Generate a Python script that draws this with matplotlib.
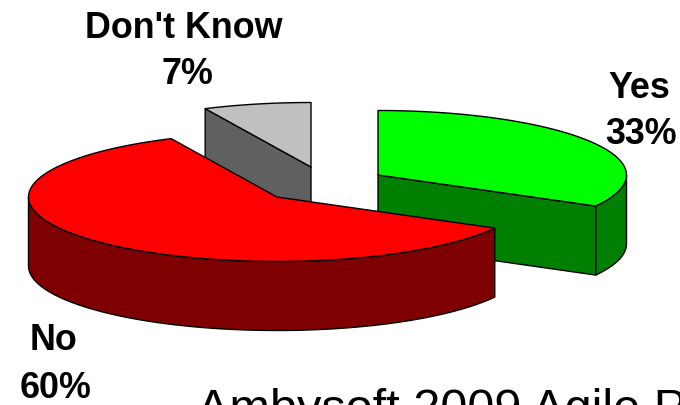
import numpy as np
import matplotlib
matplotlib.use('Agg')
import matplotlib.pyplot as plt
from matplotlib.patches import Polygon

# Data
labels = ['Yes', 'No', "Don't Know"]
values = [33, 60, 7]
top_colors = ['#00FF00', '#FF0000', '#C0C0C0']
side_colors = ['#007F00', '#7F0000', '#606060']

# Pie layout, in pixels of the 680x405 picture
rx, ry = 248.5, 64.5
depth = 69
# exploded centre of each slice
centers = [(378, 175), (277, 197), (311, 167)]
line_w = 1.0

plt.rcParams['font.family'] = ['Liberation Sans', 'DejaVu Sans']

fig = plt.figure(figsize=(6.8, 4.05), dpi=100)
ax = fig.add_axes([0, 0, 1, 1])
ax.set_xlim(0, 680)
ax.set_ylim(405, 0)
ax.axis('off')


def rim(c, a0, a1):
    # points on the ellipse, angles in degrees clockwise from 12 o'clock
    n = max(int(abs(a1 - a0) / 2), 2)
    a = np.radians(np.linspace(a0, a1, n))
    return np.column_stack([c[0] + rx * np.sin(a), c[1] - ry * np.cos(a)])


def shape(pts, color, z):
    ax.add_patch(Polygon(pts, closed=True, facecolor=color, edgecolor='black',
                         linewidth=line_w, joinstyle='round', zorder=z))


def wall(pts, color, z):
    # drop a top outline by the pie's depth to make a side wall
    low = pts[::-1] + [0, depth]
    shape(np.vstack([pts, low]), color, z)


# Slice angles come from the values
edges = np.concatenate([[0], np.cumsum(values)]) * 360.0 / sum(values)

# Don't Know, at the back
c = np.array(centers[2], float)
a0, a1 = edges[2], edges[3]
wall(np.array([c, rim(c, a0, a0)[0]]), side_colors[2], 1)
shape(np.vstack([[c], rim(c, a0, a1)]), top_colors[2], 2)

# Yes
c = np.array(centers[0], float)
a0, a1 = edges[0], edges[1]
wall(np.array([c, rim(c, a1, a1)[0]]), side_colors[0], 3)
wall(rim(c, 90, a1), side_colors[0], 3)
shape(np.vstack([[c], rim(c, a0, a1)]), top_colors[0], 4)

# No, in front
c = np.array(centers[1], float)
a0, a1 = edges[1], edges[2]
wall(rim(c, a0, 270), side_colors[1], 5)
shape(np.vstack([[c], rim(c, a0, a1)]), top_colors[1], 6)

# Labels
bold = dict(fontsize=25.8, fontweight='bold', ha='center', va='center', color='black')
ax.text(184, 29, labels[2], **bold)
ax.text(187, 74, '%d%%' % values[2], **bold)
ax.text(639, 88, labels[0], **bold)
ax.text(641, 134, '%d%%' % values[0], **bold)
ax.text(53, 341, labels[1], **bold)
ax.text(56, 388, '%d%%' % values[1], **bold)

# Caption runs off the bottom right of the slide
ax.text(197, 423, 'Ambysoft 2009 Agile Project Success', fontsize=35,
        ha='left', va='baseline', color='black', clip_on=True)

fig.savefig('out.png', dpi=100)
